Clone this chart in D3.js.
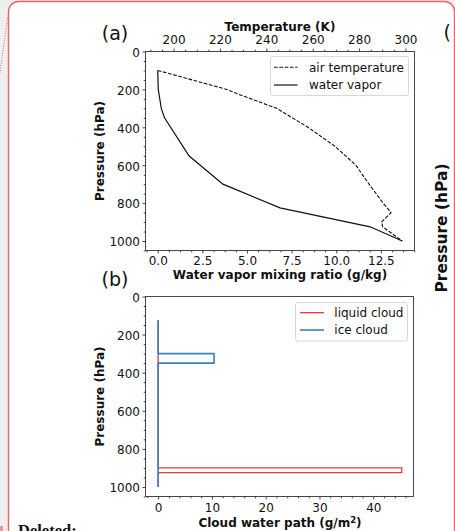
<!DOCTYPE html>
<html><head><meta charset="utf-8">
<script src="https://cdn.jsdelivr.net/npm/d3@7"></script>
<style>
html,body{margin:0;padding:0;background:#efefef;overflow:hidden}
svg{display:block}
text{font-family:"DejaVu Sans",sans-serif;fill:#111}
</style></head><body>
<script>
// ---- data ----
// (a) air temperature profile (hPa, K)
const tempPressure = [100, 200, 225, 300, 400, 500, 600, 700, 800, 850, 900, 925, 950, 1000];
const tempK = [193.2, 222.9, 227.9, 244.5, 258.0, 269.6, 278.6, 284.3, 290.4, 293.8, 289.7, 290.2, 293.0, 298.6];
// (a) water vapor mixing ratio profile (hPa, g/kg)
const vaporPressure = [100, 200, 300, 350, 550, 700, 825, 925, 1000];
const vaporMix = [0.0, 0.03, 0.2, 0.38, 1.75, 3.65, 6.85, 11.9, 13.7];
// (b) cloud water path profiles (hPa, g/m2)
const cloudPressure = [125, 300, 300, 350, 350, 900, 900, 925, 925, 1000];
const liquidPath = [0, 0, 0, 0, 0, 0, 45.3, 45.3, 0, 0];
const icePath = [0, 0, 10.4, 10.4, 0, 0, 0, 0, 0, 0];
// tick values
const pressureTicks = [0, 200, 400, 600, 800, 1000];
const vaporTicks = [0, 2.5, 5, 7.5, 10, 12.5];
const tempTicks = [200, 220, 240, 260, 280, 300];
const pathTicks = [0, 10, 20, 30, 40];

const W = 455, H = 531;
const svg = d3.select("body").append("svg").attr("width", W).attr("height", H);

// page background and comment balloon frame
svg.append("rect").attr("width", W).attr("height", H).attr("fill", "#efefef");
svg.append("rect").attr("x", 8.5).attr("y", 1.5).attr("width", 446).attr("height", 620)
  .attr("rx", 10).attr("fill", "#fff").attr("stroke", "#e06a6a").attr("stroke-width", 1.4);
svg.append("line").attr("x1", 7.5).attr("y1", 18).attr("x2", 0).attr("y2", 73)
  .attr("stroke", "#e06a6a").attr("stroke-width", 1).attr("stroke-dasharray", "1,1.5");
svg.append("rect").attr("x", 0).attr("y", 526).attr("width", 3).attr("height", 5).attr("fill", "#e89a9a");
svg.append("text").attr("x", 18).attr("y", 536).text("Deleted:")
  .style("font-family", "'Liberation Serif',serif").style("font-weight", "bold").style("font-size", "16.5px");

// neighbouring panel edge
svg.append("text").attr("x", 443.5).attr("y", 38.5).style("font-size", "19px").text("(");
svg.append("text").attr("transform", "translate(447,228) rotate(-90)").attr("text-anchor", "middle")
  .style("font-size", "15.5px").style("font-weight", "bold").text("Pressure (hPa)");

const TICK = 3, MINOR = 1.8, FONT = "12px", AXC = "#333";

function minorValues(domain, step, majors) {
  const out = [];
  const start = Math.ceil(domain[0] / step - 1e-9) * step;
  for (let v = start; v <= domain[1] + 1e-9; v += step) {
    const r = Math.round(v * 1000) / 1000;
    if (!majors.some(m => Math.abs(m - r) < 1e-6)) out.push(r);
  }
  return out;
}

function styleAxis(g) {
  g.select(".domain").remove();
  g.selectAll(".tick line").attr("stroke", AXC).attr("stroke-width", 0.9);
  g.selectAll(".tick text").style("font-size", FONT).attr("fill", "#111");
}

function leftAxis(scale, x, majors, minorStep) {
  const g = svg.append("g").attr("transform", `translate(${x},0)`);
  g.call(d3.axisLeft(scale).tickValues(minorValues(scale.domain(), minorStep, majors)).tickSize(MINOR).tickFormat(""));
  styleAxis(g);
  const m = svg.append("g").attr("transform", `translate(${x},0)`);
  m.call(d3.axisLeft(scale).tickValues(majors).tickSize(TICK).tickFormat(d3.format("d")));
  styleAxis(m);
  m.selectAll(".tick text").attr("x", -5.5).attr("dy", "0.4em");
}

function horizAxis(scale, y, majors, minorStep, fmt, top, labelOffset) {
  const gen = top ? d3.axisTop : d3.axisBottom;
  const g = svg.append("g").attr("transform", `translate(0,${y})`);
  g.call(gen(scale).tickValues(minorValues(scale.domain(), minorStep, majors)).tickSize(MINOR).tickFormat(""));
  styleAxis(g);
  const m = svg.append("g").attr("transform", `translate(0,${y})`);
  m.call(gen(scale).tickValues(majors).tickSize(TICK).tickFormat(fmt));
  styleAxis(m);
  m.selectAll(".tick text").attr("y", labelOffset).attr("dy", 0);
}

function frame(x0, x1, y0, y1) {
  svg.append("rect").attr("x", x0).attr("y", y0).attr("width", x1 - x0).attr("height", y1 - y0)
    .attr("fill", "none").attr("stroke", AXC).attr("stroke-width", 0.9);
}

function legend(x0, y0, w, h, items, lineX0, lineX1, textX) {
  svg.append("rect").attr("x", x0).attr("y", y0).attr("width", w).attr("height", h).attr("rx", 2.5)
    .attr("fill", "#fff").attr("stroke", "#d4d4d4").attr("stroke-width", 0.9);
  items.forEach(it => {
    svg.append("line").attr("x1", lineX0).attr("x2", lineX1).attr("y1", it.y).attr("y2", it.y)
      .attr("stroke", it.color).attr("stroke-width", it.width).attr("stroke-dasharray", it.dash || null);
    svg.append("text").attr("x", textX).attr("y", it.y + 4.4).style("font-size", FONT).text(it.label);
  });
}

// ================= panel (a) =================
const A = {x0: 145.5, x1: 414.5, y0: 51.5, y1: 250.5};
const yA = d3.scaleLinear().domain([0, 1050]).range([A.y0, A.y1]);
const xVapor = d3.scaleLinear().domain([-0.685, 14.385]).range([A.x0, A.x1]);
const xTemp = d3.scaleLinear().domain([187.9, 303.9]).range([A.x0, A.x1]);

svg.append("clipPath").attr("id", "clipA").append("rect")
  .attr("x", A.x0).attr("y", A.y0).attr("width", A.x1 - A.x0).attr("height", A.y1 - A.y0);

const tempLine = d3.line().x(d => xTemp(d[1])).y(d => yA(d[0]));
svg.append("path").attr("clip-path", "url(#clipA)")
  .datum(tempPressure.map((p, i) => [p, tempK[i]]))
  .attr("d", tempLine).attr("fill", "none").attr("stroke", "#111").attr("stroke-width", 1.1)
  .attr("stroke-dasharray", "3.7,1.6");

const vaporLine = d3.line().x(d => xVapor(d[1])).y(d => yA(d[0]));
svg.append("path").attr("clip-path", "url(#clipA)")
  .datum(vaporPressure.map((p, i) => [p, vaporMix[i]]))
  .attr("d", vaporLine).attr("fill", "none").attr("stroke", "#111").attr("stroke-width", 1.2);

leftAxis(yA, A.x0, pressureTicks, 50);
horizAxis(xVapor, A.y1, vaporTicks, 0.625, d3.format(".1f"), false, 14.5);
horizAxis(xTemp, A.y0, tempTicks, 5, d3.format("d"), true, -7.5);
frame(A.x0, A.x1, A.y0, A.y1);

legend(270.5, 56.5, 138, 39, [
  {y: 67.3, label: "air temperature", color: "#111", width: 1.1, dash: "3.7,1.6"},
  {y: 85, label: "water vapor", color: "#111", width: 1.2}
], 274, 297.5, 309);

svg.append("text").attr("x", 280).attr("y", 31).attr("text-anchor", "middle")
  .style("font-size", FONT).style("font-weight", "bold").text("Temperature (K)");
svg.append("text").attr("x", 280).attr("y", 279).attr("text-anchor", "middle")
  .style("font-size", FONT).style("font-weight", "bold").text("Water vapor mixing ratio (g/kg)");
svg.append("text").attr("transform", `translate(104,${(A.y0 + A.y1) / 2}) rotate(-90)`).attr("text-anchor", "middle")
  .style("font-size", FONT).style("font-weight", "bold").text("Pressure (hPa)");
svg.append("text").attr("x", 115).attr("y", 40).attr("text-anchor", "middle").style("font-size", "19px").text("(a)");

// ================= panel (b) =================
const B = {x0: 145.5, x1: 413.5, y0: 296.5, y1: 496.5};
const yB = d3.scaleLinear().domain([0, 1050]).range([B.y0, B.y1]);
const xPath = d3.scaleLinear().domain([-2.35, 47.48]).range([B.x0, B.x1]);

const LIQ = "#e5393a", ICE = "#3a82c0";
const pathLine = d3.line().x(d => xPath(d[1])).y(d => yB(d[0]));
svg.append("path").datum(cloudPressure.map((p, i) => [p, liquidPath[i]]))
  .attr("d", pathLine).attr("fill", "none").attr("stroke", LIQ).attr("stroke-width", 1.3);
svg.append("path").datum(cloudPressure.map((p, i) => [p, icePath[i]]))
  .attr("d", pathLine).attr("fill", "none").attr("stroke", ICE).attr("stroke-width", 1.6);

leftAxis(yB, B.x0, pressureTicks, 50);
horizAxis(xPath, B.y1, pathTicks, 2, d3.format("d"), false, 15);
frame(B.x0, B.x1, B.y0, B.y1);

legend(295.5, 302.5, 112, 38.5, [
  {y: 312.7, label: "liquid cloud", color: LIQ, width: 1.3},
  {y: 330, label: "ice cloud", color: ICE, width: 1.6}
], 300, 324, 334.3);

const xl = svg.append("text").attr("x", 280).attr("y", 527).attr("text-anchor", "middle")
  .style("font-size", FONT).style("font-weight", "bold");
xl.append("tspan").text("Cloud water path (g/m");
xl.append("tspan").attr("dy", -4.5).style("font-size", "8.5px").text("2");
xl.append("tspan").attr("dy", 4.5).text(")");
svg.append("text").attr("transform", `translate(104,${(B.y0 + B.y1) / 2}) rotate(-90)`).attr("text-anchor", "middle")
  .style("font-size", FONT).style("font-weight", "bold").text("Pressure (hPa)");
svg.append("text").attr("x", 115).attr("y", 285.8).attr("text-anchor", "middle").style("font-size", "19px").text("(b)");
</script>
</body></html>
